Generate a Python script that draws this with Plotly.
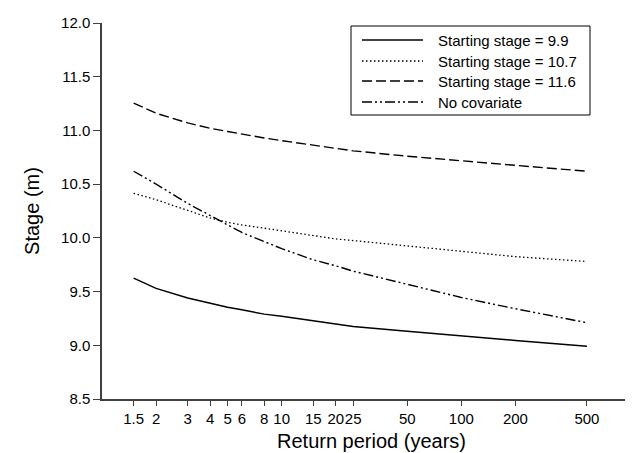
import plotly.graph_objects as go

# ---- data ----
return_period = [1.5, 2, 3, 4, 5, 6, 8, 10, 15, 20, 25, 50, 100, 200, 500]
stage_99 = [9.625, 9.53, 9.44, 9.39, 9.355, 9.33, 9.29, 9.27, 9.225, 9.195, 9.175, 9.13, 9.085, 9.045, 8.99]
stage_107 = [10.415, 10.355, 10.255, 10.185, 10.145, 10.12, 10.09, 10.065, 10.02, 9.99, 9.975, 9.925, 9.875, 9.825, 9.78]
stage_116 = [11.255, 11.16, 11.07, 11.02, 10.99, 10.965, 10.93, 10.905, 10.86, 10.83, 10.81, 10.76, 10.715, 10.675, 10.62]
stage_nocov = [10.62, 10.50, 10.32, 10.205, 10.12, 10.05, 9.965, 9.90, 9.795, 9.74, 9.69, 9.565, 9.445, 9.34, 9.21]

x_tick_vals = [1.5, 2, 3, 4, 5, 6, 8, 10, 15, 20, 25, 50, 100, 200, 500]
x_tick_text = ["1.5", "2", "3", "4", "5", "6", "8", "10", "15", "20", "25", "50", "100", "200", "500"]
y_tick_vals = [8.5, 9.0, 9.5, 10.0, 10.5, 11.0, 11.5, 12.0]

series_names = ["Starting stage = 9.9", "Starting stage = 10.7", "Starting stage = 11.6", "No covariate"]
series_values = [stage_99, stage_107, stage_116, stage_nocov]

# ---- styles ----
W, H = 633, 453
ML, MR, MT, MB = 94, 0, 15, 62
FONT = "Arial, Liberation Sans, Helvetica, sans-serif"
dashes = ["solid", "1.5px,2.5px", "10px,4px", "10px,3px,2px,3px,2px,3px"]
widths = [1.5, 1.3, 1.4, 1.4]
AXC = "#404040"

fig = go.Figure()
for name, vals, d, w in zip(series_names, series_values, dashes, widths):
    fig.add_trace(go.Scatter(x=return_period, y=vals, mode="lines", name=name,
                             line=dict(color="black", width=w, dash=d),
                             showlegend=False))

# ---- custom legend (paper coords from pixel layout) ----
pw, ph = W - ML - MR, H - MT - MB
def px(xp):
    return (xp - ML) / pw
def py(yp):
    return (H - MB - yp) / ph

shapes = [dict(type="rect", xref="paper", yref="paper",
               x0=px(343), x1=px(582), y0=py(107), y1=py(18),
               line=dict(color="black", width=1), fillcolor="white", layer="above")]
annotations = []
rows = [32, 53, 73, 94]
for name, d, w, r in zip(series_names, dashes, widths, rows):
    shapes.append(dict(type="line", xref="paper", yref="paper",
                       x0=px(354), x1=px(415), y0=py(r), y1=py(r),
                       line=dict(color="black", width=w, dash=d), layer="above"))
    annotations.append(dict(xref="paper", yref="paper", x=px(428), y=py(r),
                            text=name, showarrow=False, xanchor="left", yanchor="middle",
                            font=dict(family=FONT, size=15, color="black")))

fig.update_layout(
    width=W, height=H,
    margin=dict(l=ML, r=MR, t=MT, b=MB, pad=0),
    paper_bgcolor="white", plot_bgcolor="white",
    font=dict(family=FONT, size=15, color="black"),
    shapes=shapes, annotations=annotations,
)
fig.update_xaxes(type="log", range=[0, 3], tickvals=x_tick_vals, ticktext=x_tick_text,
                 tickangle=0, ticks="outside", ticklen=5, tickwidth=1.2, tickcolor=AXC,
                 showline=True, linecolor=AXC, linewidth=1.5, showgrid=False, zeroline=False,
                 tickfont=dict(size=15, family=FONT, color="black"),
                 title=dict(text="Return period (years)", font=dict(size=20, family=FONT), standoff=8))
fig.update_yaxes(range=[8.5, 12], tickvals=y_tick_vals, tickformat=".1f",
                 ticks="outside", ticklen=7, tickwidth=1.2, tickcolor=AXC,
                 showline=True, linecolor=AXC, linewidth=1.5, showgrid=False, zeroline=False,
                 tickfont=dict(size=15, family=FONT, color="black"),
                 title=dict(text="Stage (m)", font=dict(size=20, family=FONT), standoff=16))

fig.write_html("out.html")
